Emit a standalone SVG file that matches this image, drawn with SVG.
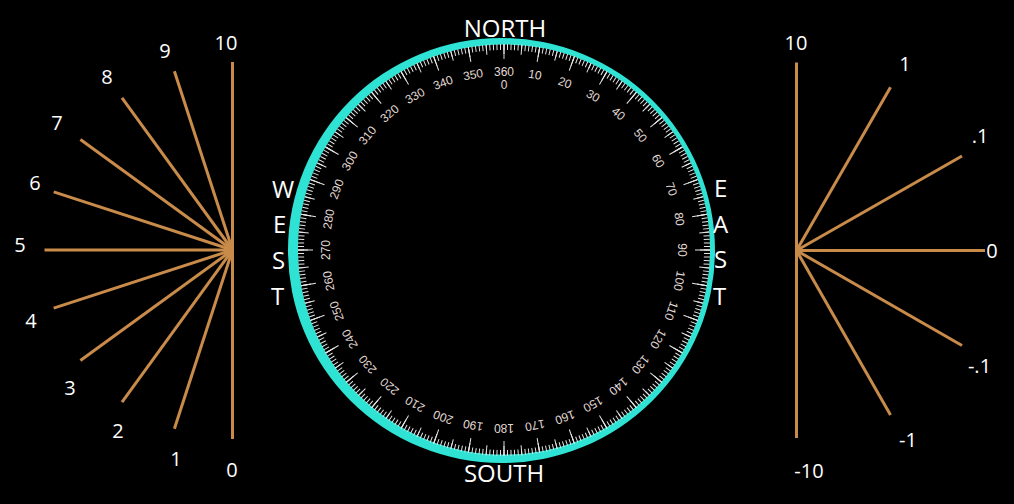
<svg xmlns="http://www.w3.org/2000/svg" width="1014" height="504" viewBox="0 0 1014 504">
<style>
.bg{fill:#000}
.ray{stroke:#c98b4a;stroke-width:3;fill:none;stroke-linecap:butt}
.lbl{fill:#ffffff;font-family:"Open Sans","Noto Sans",sans-serif;font-size:20px;text-anchor:middle}
.dir{fill:#ffffff;font-family:"Open Sans","Noto Sans",sans-serif;font-size:24px}
.ring{fill:#2ee3d3;fill-rule:evenodd}
.tick{fill:none;stroke:#e6e6e6}
.deg{fill:#e0d8d4;font-family:"Liberation Sans",Arial,sans-serif;font-size:12px;text-anchor:middle}
</style>
<rect class="bg" x="0" y="0" width="1014" height="504"/>

<g id="left-fan">
<g class="ray">
<line x1="232.5" y1="62" x2="232.5" y2="439"/>
<line x1="232.5" y1="250" x2="174.4" y2="71.2"/>
<line x1="232.5" y1="250" x2="122" y2="97.9"/>
<line x1="232.5" y1="250" x2="80.4" y2="139.5"/>
<line x1="232.5" y1="250" x2="53.7" y2="191.9"/>
<line x1="232.5" y1="250" x2="44.5" y2="250"/>
<line x1="232.5" y1="250" x2="53.7" y2="308.1"/>
<line x1="232.5" y1="250" x2="80.4" y2="360.5"/>
<line x1="232.5" y1="250" x2="122" y2="402.1"/>
<line x1="232.5" y1="250" x2="174.4" y2="428.8"/>
</g>
<g class="lbl">
<text x="226" y="50">10</text>
<text x="165" y="58">9</text>
<text x="107" y="84">8</text>
<text x="57" y="130">7</text>
<text x="35" y="190">6</text>
<text x="20" y="252">5</text>
<text x="31" y="328">4</text>
<text x="70" y="395">3</text>
<text x="118" y="438">2</text>
<text x="176" y="466">1</text>
<text x="232" y="477">0</text>
</g>
</g>

<g id="right-fan">
<g class="ray">
<line x1="796.5" y1="62.5" x2="796.5" y2="438"/>
<line x1="796.5" y1="250.5" x2="890.5" y2="87.2"/>
<line x1="796.5" y1="250.5" x2="962" y2="156"/>
<line x1="796.5" y1="250.5" x2="985" y2="250.5"/>
<line x1="796.5" y1="250.5" x2="962" y2="345.5"/>
<line x1="796.5" y1="250.5" x2="890.5" y2="415"/>
</g>
<g class="lbl">
<text x="796" y="50">10</text>
<text x="905" y="71">1</text>
<text x="980" y="143">.1</text>
<text x="992" y="258">0</text>
<text x="979.5" y="373">-.1</text>
<text x="908" y="447">-1</text>
<text x="809" y="478">-10</text>
</g>
</g>

<g id="compass">
<path class="ring" d="M 288 250.5 A 213.5 212.5 0 1 0 715 250.5 A 213.5 212.5 0 1 0 288 250.5 Z M 298 249.5 A 206 205 0 1 0 710 249.5 A 206 205 0 1 0 298 249.5 Z"/>
<circle class="tick" cx="504" cy="250" r="203" stroke-width="6" pathLength="360" stroke-dasharray="0.28 0.72" stroke-dashoffset="0.14"/>
<circle class="tick" cx="504" cy="250" r="201" stroke-width="10" pathLength="360" stroke-dasharray="0.28 4.72" stroke-dashoffset="0.14"/>
<circle class="tick" cx="504" cy="250" r="198.5" stroke-width="15" pathLength="360" stroke-dasharray="0.28 9.72" stroke-dashoffset="0.14"/>
<g class="deg">
<text x="504" y="76">360</text>
<text x="504" y="89">0</text>
<text x="504" y="76" transform="rotate(10 504 250)">10</text>
<text x="504" y="76" transform="rotate(20 504 250)">20</text>
<text x="504" y="76" transform="rotate(30 504 250)">30</text>
<text x="504" y="76" transform="rotate(40 504 250)">40</text>
<text x="504" y="76" transform="rotate(50 504 250)">50</text>
<text x="504" y="76" transform="rotate(60 504 250)">60</text>
<text x="504" y="76" transform="rotate(70 504 250)">70</text>
<text x="504" y="76" transform="rotate(80 504 250)">80</text>
<text x="504" y="76" transform="rotate(90 504 250)">90</text>
<text x="504" y="76" transform="rotate(100 504 250)">100</text>
<text x="504" y="76" transform="rotate(110 504 250)">110</text>
<text x="504" y="76" transform="rotate(120 504 250)">120</text>
<text x="504" y="76" transform="rotate(130 504 250)">130</text>
<text x="504" y="76" transform="rotate(140 504 250)">140</text>
<text x="504" y="76" transform="rotate(150 504 250)">150</text>
<text x="504" y="76" transform="rotate(160 504 250)">160</text>
<text x="504" y="76" transform="rotate(170 504 250)">170</text>
<text x="504" y="76" transform="rotate(180 504 250)">180</text>
<text x="504" y="76" transform="rotate(190 504 250)">190</text>
<text x="504" y="76" transform="rotate(200 504 250)">200</text>
<text x="504" y="76" transform="rotate(210 504 250)">210</text>
<text x="504" y="76" transform="rotate(220 504 250)">220</text>
<text x="504" y="76" transform="rotate(230 504 250)">230</text>
<text x="504" y="76" transform="rotate(240 504 250)">240</text>
<text x="504" y="76" transform="rotate(250 504 250)">250</text>
<text x="504" y="76" transform="rotate(260 504 250)">260</text>
<text x="504" y="76" transform="rotate(270 504 250)">270</text>
<text x="504" y="76" transform="rotate(280 504 250)">280</text>
<text x="504" y="76" transform="rotate(290 504 250)">290</text>
<text x="504" y="76" transform="rotate(300 504 250)">300</text>
<text x="504" y="76" transform="rotate(310 504 250)">310</text>
<text x="504" y="76" transform="rotate(320 504 250)">320</text>
<text x="504" y="76" transform="rotate(330 504 250)">330</text>
<text x="504" y="76" transform="rotate(340 504 250)">340</text>
<text x="504" y="76" transform="rotate(350 504 250)">350</text>
</g>
</g>

<g id="north"><text class="dir" x="505" y="37" text-anchor="middle">NORTH</text></g>
<g id="south"><text class="dir" x="504" y="482" text-anchor="middle">SOUTH</text></g>
<g id="west" class="dir">
<text x="272" y="198">W</text>
<text x="273" y="233">E</text>
<text x="272" y="269">S</text>
<text x="271" y="305">T</text>
</g>
<g id="east" class="dir">
<text x="714" y="197">E</text>
<text x="713" y="233">A</text>
<text x="714" y="268">S</text>
<text x="713" y="305">T</text>
</g>
</svg>
